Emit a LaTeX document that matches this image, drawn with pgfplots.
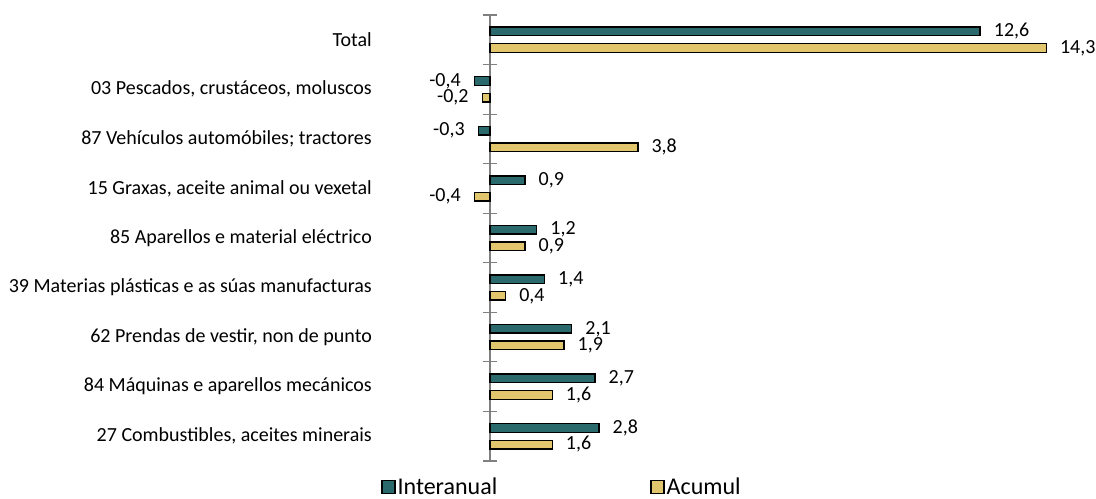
\documentclass[border=0pt]{standalone}
\usepackage{pgfplots}
\pgfplotsset{compat=1.18}
\usepackage{fontspec}
\setmainfont{Carlito}
\definecolor{teal1}{HTML}{2A6A6C}
\definecolor{tan1}{HTML}{E2C66E}
\pgfplotsset{
  sqlegend/.style={legend image code/.code={\path[##1, line width=1.4bp] (0bp,-6.5bp) rectangle (13bp,6.5bp);}},
}
\begin{document}
\begin{tikzpicture}
\begin{axis}[
  at={(373.3bp,38bp)}, anchor=south west,
  scale only axis, width=711.9bp, height=446bp,
  xmin=-3, xmax=15.3, ymin=-0.5, ymax=8.5,
  xbar, bar width=8.6bp,
  axis y line=center, axis x line=none,
  y axis line style={-, draw=gray, line width=1.2bp},
  ytick={0,...,8},
  yticklabels={{27 Combustibles, aceites minerais},{84 Máquinas e aparellos mecánicos},{62 Prendas de vestir, non de punto},{39 Materias plásticas e as súas manufacturas},{85 Aparellos e material eléctrico},{15 Graxas, aceite animal ou vexetal},{87 Vehículos automóbiles; tractores},{03 Pescados, crustáceos, moluscos},{Total}},
  minor ytick={-0.5,0.5,...,8.5},
  major tick length=0pt, minor tick length=14bp, tick align=center,
  minor tick style={gray, line width=1.2bp},
  xtick=\empty,
  clip=false,
  yticklabel style={anchor=east, inner sep=0pt, xshift=-118bp, font=\fontsize{20bp}{24bp}\selectfont},
  point meta=x,
  nodes near coords={\pgfmathprintnumber[fixed,fixed zerofill,precision=1,use comma,assume math mode=true]{\pgfplotspointmeta}},
  nodes near coords align=horizontal,
  every node near coord/.append style={font=\fontsize{20bp}{22bp}\selectfont, inner xsep=13bp, inner ysep=0pt, text=black},
  legend columns=2,
  legend style={at={(0.0108,-0.058)}, anchor=west, draw=none, inner sep=0pt, font=\fontsize{24bp}{26bp}\selectfont,
    nodes={inner sep=2bp},
    /tikz/every even column/.append style={column sep=151bp}},
  every axis plot post/.append style={sqlegend},
]
\addplot[fill=teal1, draw=black, line width=1.4bp, bar shift=8.3bp] coordinates {
 (2.8,0) (2.7,1) (2.1,2) (1.4,3) (1.2,4) (0.9,5) (-0.3,6) (-0.4,7) (12.6,8)};
\addplot[fill=tan1, draw=black, line width=1.4bp, bar shift=-8.3bp] coordinates {
 (1.6,0) (1.6,1) (1.9,2) (0.4,3) (0.9,4) (-0.4,5) (3.8,6) (-0.2,7) (14.3,8)};
\legend{Interanual, Acumul}
\end{axis}
\pgfresetboundingbox
\path (0bp,0bp) rectangle (1096bp,499bp);
\end{tikzpicture}
\end{document}
